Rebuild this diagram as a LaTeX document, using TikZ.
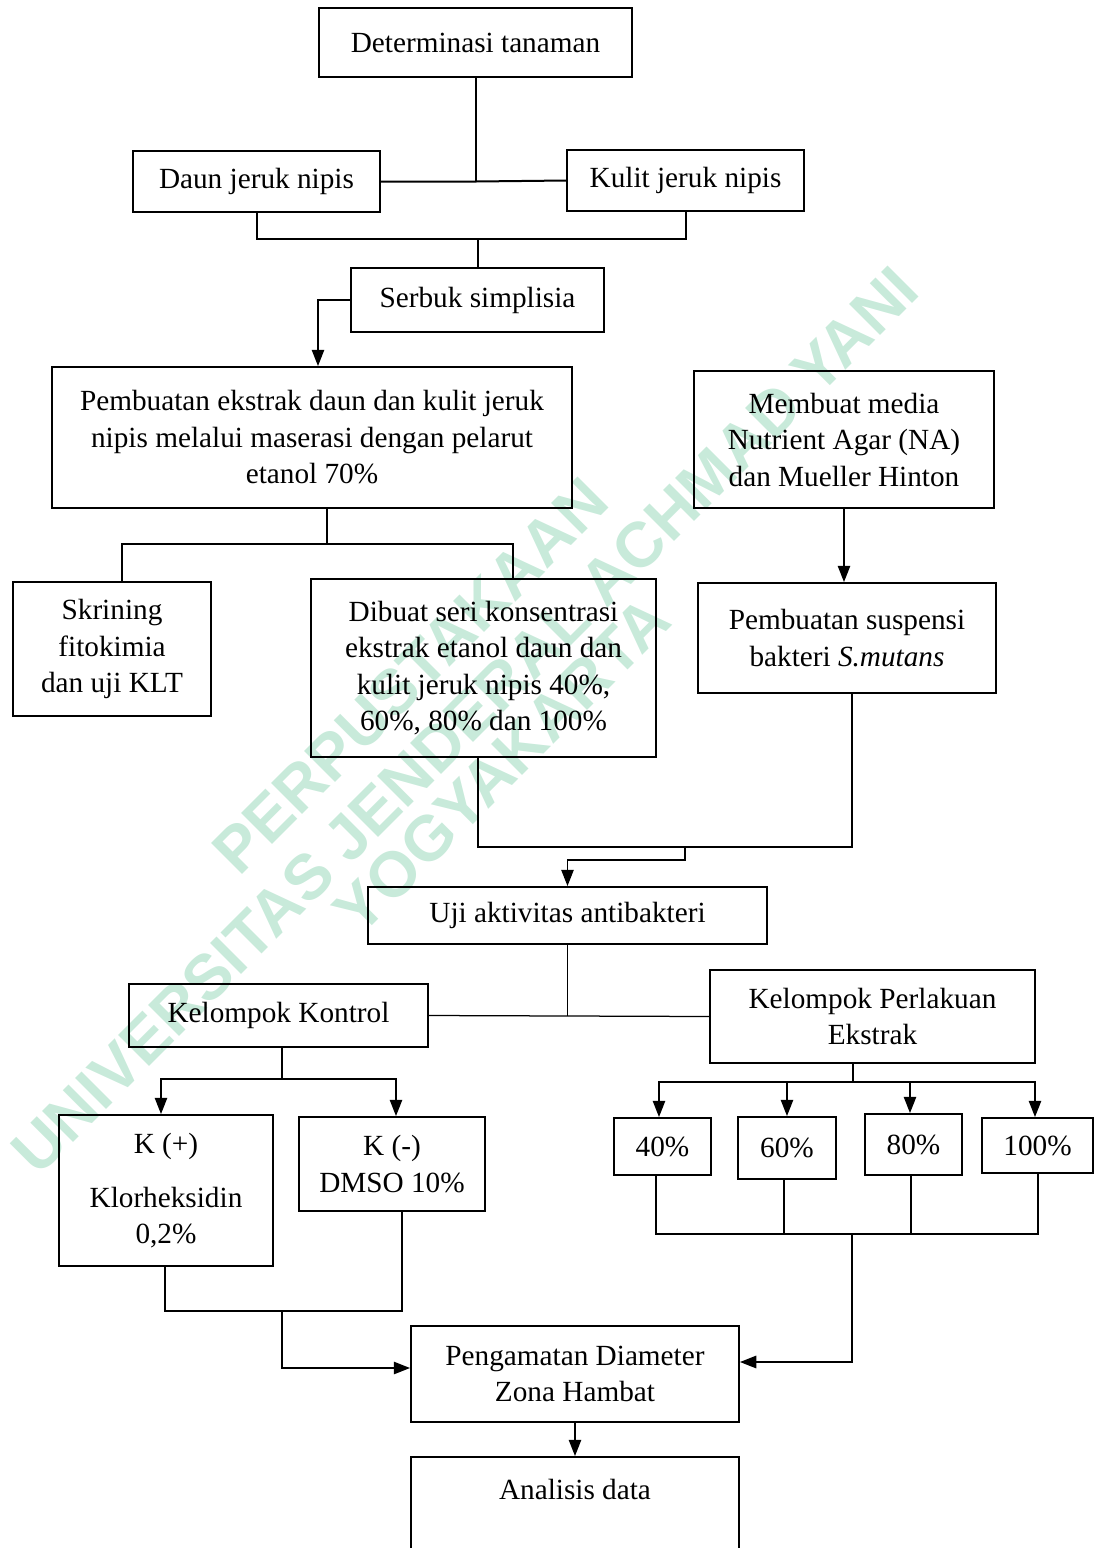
\documentclass[tikz,border=0pt]{standalone}
\usepackage{fontspec}
\setmainfont{Liberation Serif}
\newfontfamily\wmfont{Liberation Sans}
\usepackage{xcolor}
\usetikzlibrary{arrows.meta,calc}
\definecolor{wmgreen}{RGB}{200,234,218}

\begin{document}
\begin{tikzpicture}[x=0.4pt,y=-0.4pt,
  every node/.style={font=\fontsize{11.7}{14.6}\selectfont},
  box/.style 2 args={draw, line width=0.8pt, inner sep=2pt, align=center,
    minimum width=#1*0.4pt, minimum height=#2*0.4pt},
  link/.style={line width=0.5pt},
  arr/.style={line width=0.5pt, -{Triangle[length=6.5pt,width=5pt]}},
  wm/.style={text=wmgreen, font=\wmfont\bfseries\fontsize{25.5}{30}\selectfont, rotate=45}]
\useasboundingbox (0,0) rectangle (1095,1548);

% watermark
\node[wm] (wmtop) at (410,676) {PERPUSTAKAAN};
\node[wm] (wmmid) at (465,720) {UNIVERSITAS JENDERAL ACHMAD YANI};
\node[wm] (wmbot) at (502,765) {YOGYAKARTA};

% boxes
\node[box={313}{69}] (det) at (475.5,42.5) {Determinasi tanaman};
\node[box={247}{61}] (daun) at (256.5,181.5) {Daun jeruk nipis};
\node[box={237}{61}] (kulit) at (685.5,180.5) {Kulit jeruk nipis};
\node[box={253}{64}] (serbuk) at (477.5,300) {Serbuk simplisia};
\node[box={520}{141}] (ekstrak) at (312,437.5) {Pembuatan ekstrak daun dan kulit jeruk\\nipis melalui maserasi dengan pelarut\\etanol 70\%};
\node[box={300}{137}] (media) at (844,439.5) {Membuat media\\Nutrient Agar (NA)\\dan Mueller Hinton};
\node[box={198}{134}] (skrining) at (112,649) {Skrining\\fitokimia\\dan uji KLT};
\node[box={345}{178}] (seri) at (483.5,668) {Dibuat seri konsentrasi\\ekstrak etanol daun dan\\kulit jeruk nipis 40\%,\\60\%, 80\% dan 100\%};
\node[box={298}{110}] (suspensi) at (847,638) {Pembuatan suspensi\\bakteri \textit{S.mutans}};
\node[box={399}{57}] (uji) at (567.5,915.5) {Uji aktivitas antibakteri};
\node[box={299}{63}] (kontrol) at (278.5,1015.5) {Kelompok Kontrol};
\node[box={325}{93}] (perlakuan) at (872.5,1016.5) {Kelompok Perlakuan\\Ekstrak};
\node[box={214}{151}] (kpos) at (166,1190.5) {K (+)\\[7pt]Klorheksidin\\0,2\%};
\node[box={186}{94}] (kneg) at (392,1164) {K (-)\\DMSO 10\%};
\node[box={97}{57}] (p40) at (662.5,1146.5) {40\%};
\node[box={98}{62}] (p60) at (787,1148) {60\%};
\node[box={97}{61}] (p80) at (913.5,1144.5) {80\%};
\node[box={111}{55}] (p100) at (1037.5,1145.5) {100\%};
\node[box={328}{96}] (amat) at (575,1374) {Pengamatan Diameter\\Zona Hambat};
\node[box={328}{148}] (analisis) at (575,1531) {Analisis data\\\strut\\\strut};

% top part
\coordinate (jdet) at (det.south |- daun.east);
\draw[line width=0.8pt] (det.south) -- (jdet);
\draw[line width=0.8pt] (daun.east) -- (jdet) -- (kulit.west);
\coordinate (jsim) at (477.5,239);
\draw[line width=0.8pt] (daun.south) |- (jsim) -| (kulit.south);
\draw[line width=0.8pt] (jsim) -- (serbuk.north);
\draw[arr] (serbuk.west) -| ($(ekstrak.north)+(6,0)$);

% ekstrak
\coordinate (jeks) at (327,544);
\draw[link] (ekstrak.south -| jeks) -- (jeks);
\draw[link] (jeks) -| ($(skrining.north)+(10,0)$);
\draw[link] (jeks) -| ($(seri.north)+(29.5,0)$);
\draw[arr] (media.south) -- (media.south |- suspensi.north);

% join to uji
\coordinate (jl) at (478,847);
\coordinate (jr) at (852,847);
\coordinate (jmid) at (685,847);
\draw[link] (seri.south -| jl) -- (jl) -- (jr) -- (suspensi.south -| jr);
\draw[arr] (jmid) -- ++(0,13) -| (uji.north);

% uji
\draw[link] (uji.south) -- (uji.south |- kontrol.east);
\draw[link] (kontrol.east) -- (perlakuan.west);

% kontrol
\coordinate (jk) at (282,1079);
\draw[link] (kontrol.south -| jk) -- (jk);
\draw[arr] (jk) -| ($(kpos.north)+(-5,0)$);
\draw[arr] (jk) -| ($(kneg.north)+(4,0)$);

% perlakuan
\coordinate (jp) at (853,1082);
\draw[link] (perlakuan.south -| jp) -- (jp);
\foreach \n/\dx in {p40/-3.5, p60/0, p80/-3.5, p100/-2.5}
  \draw[arr] (jp) -| ($(\n.north)+(\dx,0)$);

% to pengamatan
\coordinate (jkb) at (282,1311);
\draw[link] ($(kpos.south)+(-1,0)$) |- (jkb) -| ($(kneg.south)+(10,0)$);
\draw[arr] (jkb) |- ($(amat.west)+(0,-6)$);
\coordinate (jpb) at (852,1234);
\draw[link] ($(p40.south)+(-6.5,0)$) |- (jpb) -| ($(p100.south)+(0.5,0)$);
\foreach \n/\dx in {p60/-3, p80/-2.5}
  \draw[link] ($(\n.south)+(\dx,0)$) coordinate (tmp) -- (tmp |- jpb);
\draw[arr] (jpb) |- ($(amat.east)+(0,-12)$);
\draw[arr] (amat.south) -- (analisis.north);

\end{tikzpicture}
\end{document}
